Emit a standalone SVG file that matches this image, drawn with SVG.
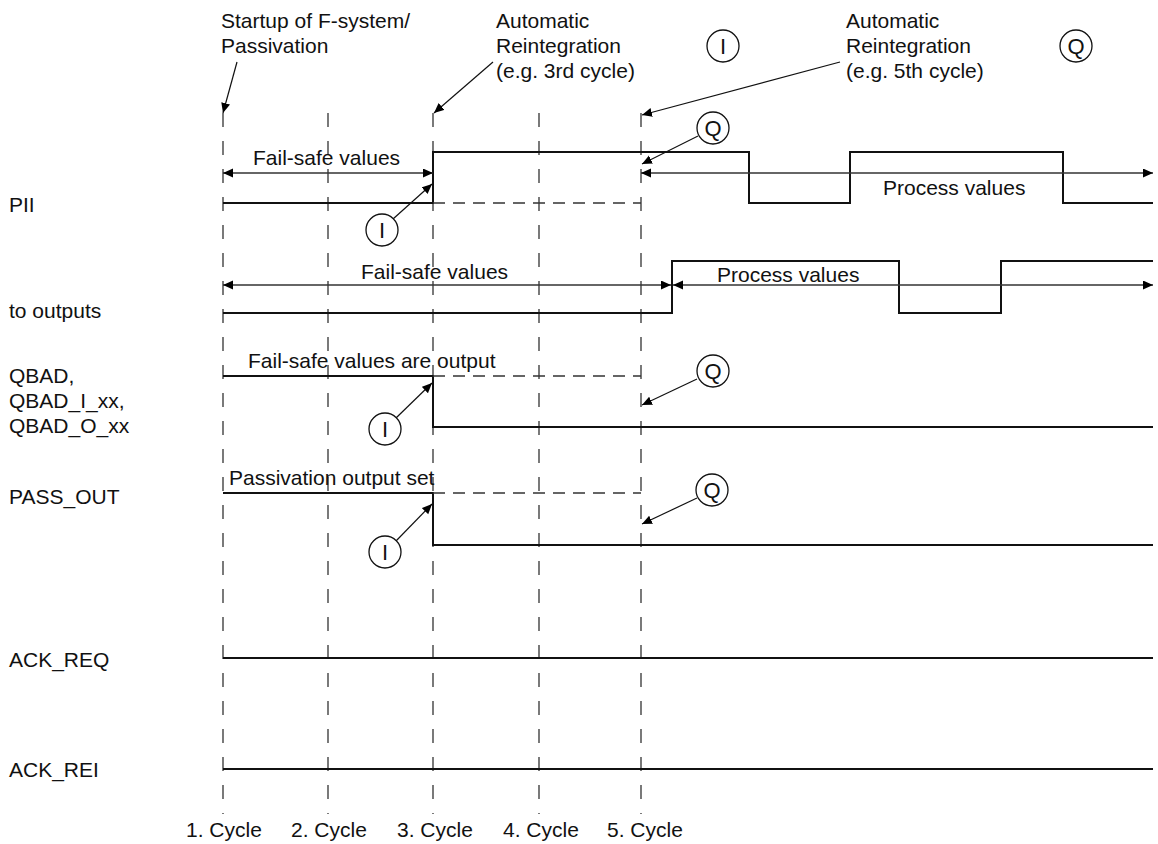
<svg xmlns="http://www.w3.org/2000/svg" width="1158" height="844" viewBox="0 0 1158 844">
  <style>
    text { font-family: "Liberation Sans", Arial, sans-serif; font-size: 21px; fill: #111; }
    .circ text { font-size: 22px; text-anchor: middle; }
    .grid { stroke: #333; stroke-width: 1.3; stroke-dasharray: 14 14; fill: none; }
    .sig { stroke: #111; stroke-width: 2; fill: none; }
    .hold { stroke: #333; stroke-width: 1.3; stroke-dasharray: 12 8; fill: none; }
    .span { stroke: #333; stroke-width: 1.3; fill: none; marker-start: url(#ah); marker-end: url(#ah); }
    .ptr { stroke: #111; stroke-width: 1.2; fill: none; marker-end: url(#ah); }
    .ring { stroke: #111; stroke-width: 1.3; fill: #fff; }
  </style>
  <defs>
    <marker id="ah" markerUnits="userSpaceOnUse" markerWidth="11" markerHeight="10" refX="10" refY="4.5" orient="auto-start-reverse">
      <path d="M0,0 L10,4.5 L0,9 z" fill="#000"/>
    </marker>
  </defs>

  <!-- cycle grid -->
  <g id="grid">
    <line class="grid" x1="223" y1="113" x2="223" y2="814"/>
    <line class="grid" x1="328" y1="113" x2="328" y2="814"/>
    <line class="grid" x1="433" y1="113" x2="433" y2="814"/>
    <line class="grid" x1="539" y1="113" x2="539" y2="814"/>
    <line class="grid" x1="641" y1="113" x2="641" y2="814"/>
  </g>

  <!-- header annotations -->
  <g id="note-startup">
    <text x="221" y="28">Startup of F-system/</text>
    <text x="221" y="53">Passivation</text>
  </g>
  <g id="note-reint3">
    <text x="496" y="28">Automatic</text>
    <text x="496" y="53">Reintegration</text>
    <text x="496" y="78">(e.g. 3rd cycle)</text>
  </g>
  <g id="note-reint5">
    <text x="846" y="28">Automatic</text>
    <text x="846" y="53">Reintegration</text>
    <text x="846" y="78">(e.g. 5th cycle)</text>
  </g>
  <g id="legend-I" class="circ">
    <circle class="ring" cx="723" cy="46" r="16"/>
    <text x="723" y="54">I</text>
  </g>
  <g id="legend-Q" class="circ">
    <circle class="ring" cx="1076" cy="46" r="16"/>
    <text x="1076" y="54">Q</text>
  </g>

  <!-- signal names -->
  <g id="labels">
    <text x="9" y="212">PII</text>
    <text x="9" y="318">to outputs</text>
    <text x="9" y="383">QBAD,</text>
    <text x="9" y="408">QBAD_I_xx,</text>
    <text x="9" y="433">QBAD_O_xx</text>
    <text x="9" y="504">PASS_OUT</text>
    <text x="9" y="667">ACK_REQ</text>
    <text x="9" y="777">ACK_REI</text>
  </g>

  <!-- PII -->
  <g id="sig-pii">
    <path class="sig" d="M223,203 H433 V152 H749 V203 H850 V152 H1063 V203 H1153"/>
    <line class="hold" x1="433" y1="203" x2="641" y2="203"/>
    <line class="span" x1="223" y1="173" x2="433" y2="173"/>
    <line class="span" x1="641" y1="173" x2="1153" y2="173"/>
    <text x="253" y="165">Fail-safe values</text>
    <text x="883" y="195">Process values</text>
  </g>

  <!-- to outputs -->
  <g id="sig-outputs">
    <path class="sig" d="M223,313 H672 V261 H899 V313 H1001 V261 H1153"/>
    <line class="span" x1="223" y1="285" x2="671" y2="285"/>
    <line class="span" x1="673" y1="285" x2="1153" y2="285"/>
    <text x="361" y="279">Fail-safe values</text>
    <text x="717" y="282">Process values</text>
  </g>

  <!-- QBAD -->
  <g id="sig-qbad">
    <path class="sig" d="M223,376 H433 V427 H1153"/>
    <line class="hold" x1="433" y1="376" x2="641" y2="376"/>
    <text x="248" y="368">Fail-safe values are output</text>
  </g>

  <!-- PASS_OUT -->
  <g id="sig-passout">
    <path class="sig" d="M223,493 H433 V545 H1153"/>
    <line class="hold" x1="433" y1="493" x2="641" y2="493"/>
    <text x="229" y="485">Passivation output set</text>
  </g>

  <!-- ACK_REQ / ACK_REI -->
  <g id="sig-ackreq">
    <line class="sig" x1="223" y1="658" x2="1153" y2="658"/>
  </g>
  <g id="sig-ackrei">
    <line class="sig" x1="223" y1="769" x2="1153" y2="769"/>
  </g>

  <!-- cycle numbers -->
  <g id="cycles">
    <text x="186" y="837">1. Cycle</text>
    <text x="291" y="837">2. Cycle</text>
    <text x="397" y="837">3. Cycle</text>
    <text x="503" y="837">4. Cycle</text>
    <text x="607" y="837">5. Cycle</text>
  </g>

  <!-- pointer arrows -->
  <g id="connectors">
    <line class="ptr" x1="237" y1="62" x2="223" y2="113"/>
    <line class="ptr" x1="493" y1="62" x2="434" y2="113"/>
    <line class="ptr" x1="840" y1="62" x2="642" y2="115"/>
    <line class="ptr" x1="698" y1="136" x2="642" y2="164"/>
    <line class="ptr" x1="393" y1="219" x2="432" y2="184"/>
    <line class="ptr" x1="396" y1="418" x2="432" y2="383"/>
    <line class="ptr" x1="697" y1="379" x2="642" y2="405"/>
    <line class="ptr" x1="396" y1="541" x2="432" y2="504"/>
    <line class="ptr" x1="697" y1="498" x2="642" y2="524"/>
  </g>

  <!-- markers I / Q on the traces -->
  <g id="mark-pii-Q" class="circ">
    <circle class="ring" cx="713" cy="128" r="16"/>
    <text x="713" y="136">Q</text>
  </g>
  <g id="mark-pii-I" class="circ">
    <circle class="ring" cx="382" cy="230" r="16"/>
    <text x="382" y="238">I</text>
  </g>
  <g id="mark-qbad-Q" class="circ">
    <circle class="ring" cx="713" cy="371" r="16"/>
    <text x="713" y="379">Q</text>
  </g>
  <g id="mark-qbad-I" class="circ">
    <circle class="ring" cx="385" cy="429" r="16"/>
    <text x="385" y="437">I</text>
  </g>
  <g id="mark-pass-Q" class="circ">
    <circle class="ring" cx="712" cy="490" r="16"/>
    <text x="712" y="498">Q</text>
  </g>
  <g id="mark-pass-I" class="circ">
    <circle class="ring" cx="385" cy="552" r="16"/>
    <text x="385" y="560">I</text>
  </g>
</svg>
